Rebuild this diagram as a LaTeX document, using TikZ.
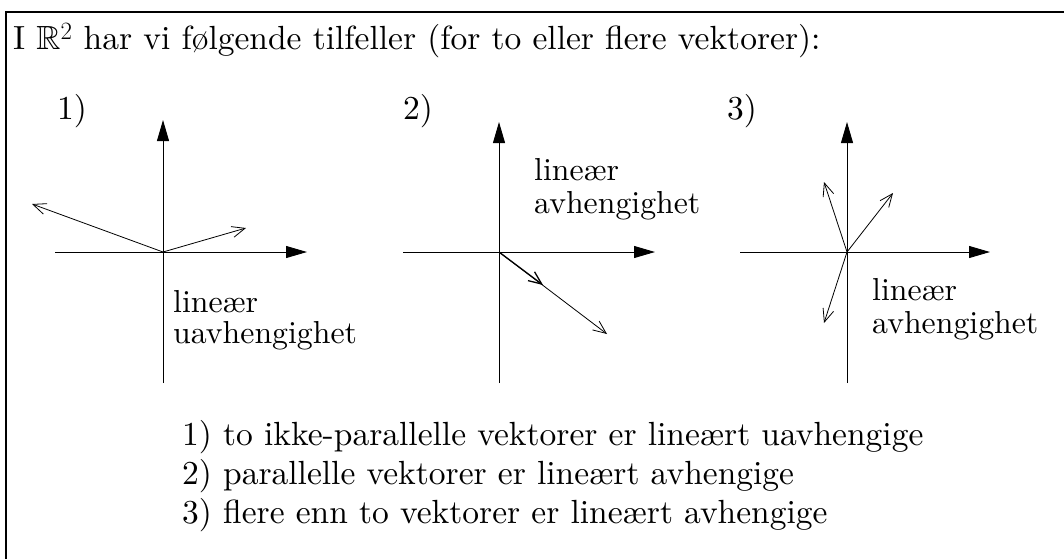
\documentclass[tikz,border=0pt]{standalone}
\usepackage{fontspec}
\setmainfont{lmroman10}[Extension=.otf,UprightFont=*-regular,BoldFont=*-bold,ItalicFont=*-italic]
\usepackage{amssymb}
\usetikzlibrary{arrows.meta}
\begin{document}
\begin{tikzpicture}[x=1pt,y=-1pt,
  axis/.style={line width=0.9pt,-{Triangle[length=21pt,width=12pt]}},
  vec/.style={line width=0.8pt,-{Straight Barb[length=13pt,width=11pt]}},
  txt/.style={anchor=base west,inner sep=0pt,font=\fontsize{33.5}{40}\selectfont},
  lbl/.style={anchor=base west,inner sep=0pt,font=\fontsize{31.8}{38}\selectfont},
  frame/.style={line width=1.2pt}]
\useasboundingbox (0,0) rectangle (1064,558);
% frame
\coordinate (fb) at (6,560);
\coordinate (fc) at (6,12);
\coordinate (fr) at (1066,12);
\draw[frame] (fb) -- (fc) -- (fr);
% header
\node[txt] (head) at (13,49) {I $\mathbb{R}^2$ har vi følgende tilfeller (for to eller flere vektorer):};
% panel 1
\coordinate (o1) at (163,252);
\coordinate (x1a) at (55,252);   \coordinate (x1b) at (307,252);
\coordinate (y1a) at (163,383);  \coordinate (y1b) at (163,120);
\coordinate (v1a) at (32,204);   \coordinate (v1b) at (246,228);
\draw[axis] (x1a) -- (x1b);
\draw[axis] (y1a) -- (y1b);
\draw[vec] (o1) -- (v1a);
\draw[vec] (o1) -- (v1b);
\node[txt] (n1) at (57,119) {1)};
\node[lbl] (l1a) at (173,312) {lineær};
\node[lbl] (l1b) at (173,343) {uavhengighet};
% panel 2
\coordinate (o2) at (499,252);
\coordinate (x2a) at (403,252);  \coordinate (x2b) at (655,252);
\coordinate (y2a) at (499,383);  \coordinate (y2b) at (499,122);
\coordinate (v2a) at (543,285);  \coordinate (v2b) at (607,334);
\draw[axis] (x2a) -- (x2b);
\draw[axis] (y2a) -- (y2b);
\draw[vec] (o2) -- (v2b);
\draw[vec,line width=1.3pt] (o2) -- (v2a);
\node[txt] (n2) at (403,119) {2)};
\node[lbl] (l2a) at (534,180) {lineær};
\node[lbl] (l2b) at (534,213) {avhengighet};
% panel 3
\coordinate (o3) at (847,252);
\coordinate (x3a) at (740,252);  \coordinate (x3b) at (990,252);
\coordinate (y3a) at (847,383);  \coordinate (y3b) at (847,122);
\coordinate (v3a) at (824,182);  \coordinate (v3b) at (893,193);
\coordinate (v3c) at (824,323);
\draw[axis] (x3a) -- (x3b);
\draw[axis] (y3a) -- (y3b);
\draw[vec] (o3) -- (v3a);
\draw[vec] (o3) -- (v3b);
\draw[vec] (o3) -- (v3c);
\node[txt] (n3) at (727,119) {3)};
\node[lbl] (l3a) at (872,300) {lineær};
\node[lbl] (l3b) at (872,333) {avhengighet};
% list
\node[txt] (i1) at (182,445) {1) to ikke-parallelle vektorer er lineært uavhengige};
\node[txt] (i2) at (182,484) {2) parallelle vektorer er lineært avhengige};
\node[txt] (i3) at (182,523) {3) flere enn to vektorer er lineært avhengige};
\end{tikzpicture}
\end{document}
